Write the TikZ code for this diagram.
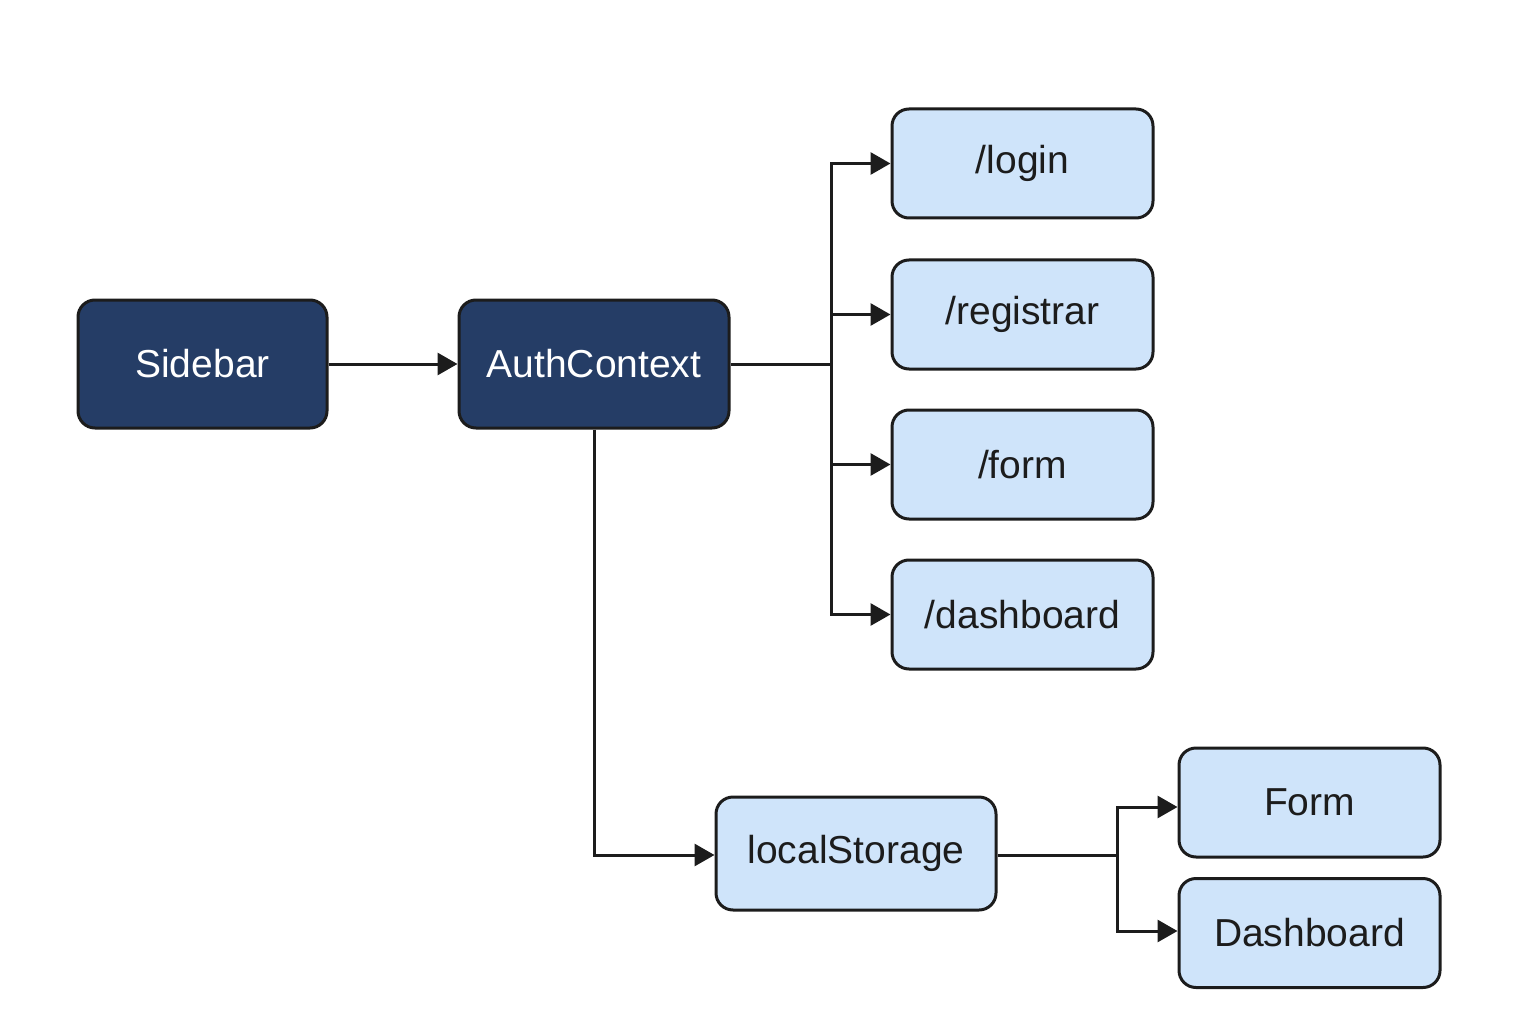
\documentclass[tikz,border=0pt]{standalone}
\usepackage{fontspec}
\setmainfont{Liberation Sans}
\usetikzlibrary{arrows.meta}
\definecolor{navy}{HTML}{253D66}
\definecolor{lightblue}{HTML}{CFE4FA}
\definecolor{ink}{HTML}{1C1C1C}
\tikzset{
  box/.style={draw=ink, line width=3pt, rounded corners=17pt, inner sep=0pt,
    font=\fontsize{39}{44}\selectfont},
  darkbox/.style={box, fill=navy, text=white, minimum width=249pt, minimum height=128pt},
  lightbox/.style={box, fill=lightblue, text=ink, minimum width=261pt, minimum height=109pt},
  conn/.style={draw=ink, line width=3pt},
  arr/.style={conn, -{Triangle[length=20pt,width=22pt]}}
}
\begin{document}
\begin{tikzpicture}[x=1pt,y=-1pt]
\useasboundingbox (0,0) rectangle (1536,1024);
\node[darkbox] (sidebar) at (202.5,364) {Sidebar};
\node[darkbox, minimum width=270pt] (auth) at (594,364) {AuthContext};
\node[lightbox] (login) at (1022.5,163.5) {/login};
\node[lightbox] (reg) at (1022.5,314.5) {/registrar};
\node[lightbox] (rform) at (1022.5,464.5) {/form};
\node[lightbox] (rdash) at (1022.5,614.5) {/dashboard};
\node[lightbox, minimum width=280pt, minimum height=113pt] (ls) at (856,853.5) {localStorage};
\node[lightbox] (form) at (1309.5,802.5) {Form};
\node[lightbox] (dash) at (1309.5,933) {Dashboard};
\coordinate (t1) at (831,364);
\coordinate (t2) at (1117,855);
\draw[arr] (sidebar.east) -- (auth.west);
\draw[arr] (auth.east) -- (t1) |- (login.west);
\draw[arr] (t1) |- (reg.west);
\draw[arr] (t1) |- (rform.west);
\draw[arr] (t1) |- (rdash.west);
\draw[arr] (auth.south) |- ([yshift=-1.5pt]ls.west);
\draw[conn] ([yshift=-1.5pt]ls.east) -- (t2);
\draw[arr] (t2) |- ([yshift=-4.5pt]form.west);
\draw[arr] (t2) |- ([yshift=2pt]dash.west);
\end{tikzpicture}
\end{document}
